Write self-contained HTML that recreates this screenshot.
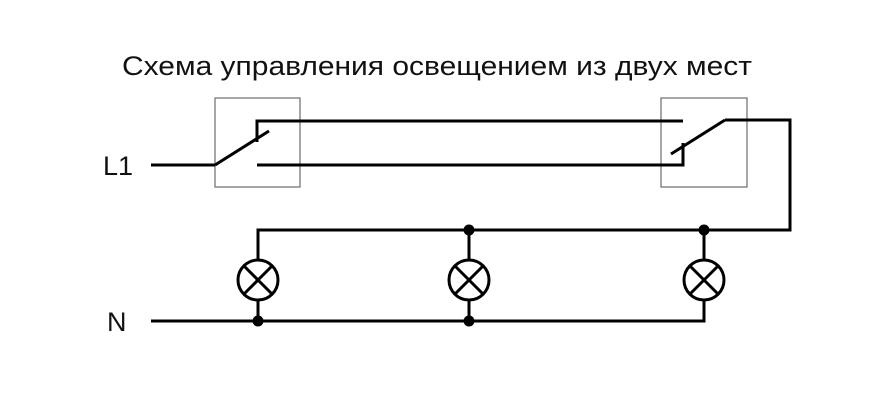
<!DOCTYPE html>
<html><head><meta charset="utf-8"><style>html,body{margin:0;padding:0;background:#fff}</style></head>
<body>
<svg width="870" height="400" viewBox="0 0 870 400" xmlns="http://www.w3.org/2000/svg" font-family="Liberation Sans, sans-serif">
<rect width="870" height="400" fill="#fff"/>
<text x="122" y="75" font-size="27" textLength="630" lengthAdjust="spacingAndGlyphs" fill="#111">Схема управления освещением из двух мест</text>
<text x="103" y="175" font-size="27" fill="#111">L1</text>
<text x="107" y="331" font-size="27" fill="#111">N</text>
<g fill="none" stroke="#777" stroke-width="1.3">
<rect x="215" y="98" width="85" height="89"/>
<rect x="661" y="98" width="86" height="89"/>
</g>
<g fill="none" stroke="#000" stroke-width="3" stroke-linejoin="miter">
<line x1="151" y1="165" x2="215" y2="165"/>
<line x1="215" y1="165" x2="269" y2="131"/>
<polyline points="257,142 257,121 683,121"/>
<polyline points="257,165 683,165 683,143"/>
<line x1="671" y1="154" x2="725" y2="120"/>
<polyline points="725,120 790,120 790,230 258,230 258,260"/>
<line x1="469" y1="230" x2="469" y2="260"/>
<line x1="704" y1="230" x2="704" y2="260"/>
<line x1="258" y1="300" x2="258" y2="321"/>
<line x1="469" y1="300" x2="469" y2="321"/>
<polyline points="704,300 704,321 151,321"/>
<g id="l">
<circle cx="258" cy="280" r="20"/>
<line x1="244" y1="266" x2="272" y2="294"/><line x1="272" y1="266" x2="244" y2="294"/>
</g>
<circle cx="469" cy="280" r="20"/>
<line x1="455" y1="266" x2="483" y2="294"/><line x1="483" y1="266" x2="455" y2="294"/>
<circle cx="704" cy="280" r="20"/>
<line x1="690" y1="266" x2="718" y2="294"/><line x1="718" y1="266" x2="690" y2="294"/>
</g>
<g fill="#000">
<circle cx="469" cy="230" r="5.5"/><circle cx="704" cy="230" r="5.5"/>
<circle cx="258" cy="321" r="5.5"/><circle cx="469" cy="321" r="5.5"/>
</g>
</svg>
</body></html>
